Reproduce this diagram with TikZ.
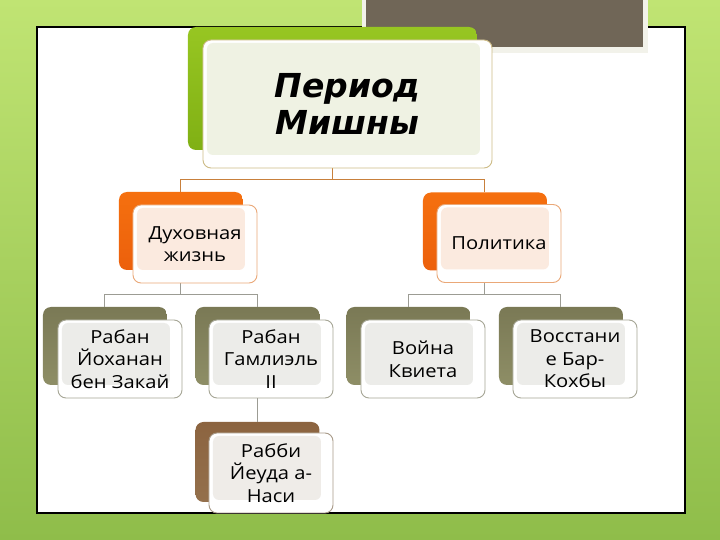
\documentclass[tikz,border=0pt]{standalone}
\usepackage{fontspec}
\setmainfont[FakeStretch=1.12]{Open Sans}
\newfontfamily\titlefont{DejaVu Sans}
\usetikzlibrary{positioning, calc}

\definecolor{bgtop}{HTML}{C0E473}
\definecolor{bgbot}{HTML}{8FBD4A}
\definecolor{grayfill}{HTML}{706657}
\definecolor{grayedge}{HTML}{F2F2EA}
\definecolor{greentop}{HTML}{97C622}
\definecolor{greenbot}{HTML}{80B014}
\definecolor{orangetop}{HTML}{F5700F}
\definecolor{orangebot}{HTML}{EC600C}
\definecolor{olivetop}{HTML}{7A7955}
\definecolor{olivebot}{HTML}{8E8E66}
\definecolor{browntop}{HTML}{8C6440}
\definecolor{brownbot}{HTML}{94704C}
\definecolor{rootline}{HTML}{CDBB86}
\definecolor{roottint}{HTML}{EFF2E3}
\definecolor{orangeline}{HTML}{EAA878}
\definecolor{orangetint}{HTML}{FBEADF}
\definecolor{oliveline}{HTML}{A6A696}
\definecolor{olivetint}{HTML}{ECECE9}
\definecolor{brownline}{HTML}{A89A88}
\definecolor{browntint}{HTML}{EFECE8}
\definecolor{linkroot}{HTML}{C8803C}
\definecolor{linkgray}{HTML}{9C9C94}

\begin{document}
\begin{tikzpicture}[x=0.5pt, y=-0.5pt,
  back/.style n args={2}{rounded corners=4pt, top color=#1, bottom color=#2,
    minimum width=62pt, minimum height=39pt, inner sep=0pt},
  front/.style n args={2}{rounded corners=4pt, draw=#1, line width=0.45pt, fill=white,
    minimum width=62pt, minimum height=39pt, inner sep=0pt, align=center,
    font=\fontsize{9}{11.3}\selectfont,
    path picture={\fill[#2, rounded corners=3pt]
      ($(path picture bounding box.south west)+(2pt,6.5pt)$) rectangle
      ($(path picture bounding box.north east)+(-6pt,-1.5pt)$);}},
  lnk/.style={draw=linkgray, line width=0.5pt},
  lnkroot/.style={draw=linkroot, line width=0.5pt}]

  \useasboundingbox (0,0) rectangle (720,540);
  \shade[top color=bgtop, bottom color=bgbot] (0,0) rectangle (720,540);
  \draw[fill=white, line width=0.6pt] (37,27) rectangle (685,513);
  \fill[grayedge] (362,0) rectangle (648,53);
  \fill[grayfill] (366,0) rectangle (643,47);

  % back boxes
  \node[back={greentop}{greenbot}, minimum width=144.5pt, minimum height=61.5pt] (rootb) at (332.5,88.5) {};
  \node[back={orangetop}{orangebot}] (duxb) at (181,231) {};
  \node[back={orangetop}{orangebot}] (polb) at (485,231.5) {};
  \node[back={olivetop}{olivebot}] (yohb) at (105,346) {};
  \node[back={olivetop}{olivebot}] (gamb) at (257.5,346) {};
  \node[back={olivetop}{olivebot}] (voib) at (408.5,346) {};
  \node[back={olivetop}{olivebot}] (vosb) at (561,346) {};
  \node[back={browntop}{brownbot}, minimum height=40pt] (yehb) at (257.5,462) {};

  % connectors
  \draw[lnkroot] (rootb.center |- 0,168) -- ++(0,12) -| (duxb.north);
  \draw[lnkroot] (rootb.center |- 0,168) -- ++(0,12) -| (polb.north);
  \draw[lnk] (duxb.center |- 0,283) -- ++(0,12) -| (yohb.north);
  \draw[lnk] (duxb.center |- 0,283) -- ++(0,12) -| (gamb.north);
  \draw[lnk] (polb.center |- 0,282) -- ++(0,13) -| (voib.north);
  \draw[lnk] (polb.center |- 0,282) -- ++(0,13) -| (vosb.north);
  \draw[lnk] (gamb.center |- 0,398) -- (yehb.north);

  % front boxes
  \node[front={rootline}{roottint}, minimum width=144.5pt, minimum height=64pt,
    font=\titlefont\bfseries\itshape\fontsize{16.5}{18.5}\selectfont] (root) at (347.5,104) {Период\\Мишны};
  \node[front={orangeline}{orangetint}] (dux) at (195,244) {Духовная\\жизнь};
  \node[front={orangeline}{orangetint}] (pol) at (499,243.5) {Политика};
  \node[front={oliveline}{olivetint}] (yoh) at (120,359) {Рабан\\Йоханан\\бен Закай};
  \node[front={oliveline}{olivetint}] (gam) at (271,359) {Рабан\\Гамлиэль\\II};
  \node[front={oliveline}{olivetint}] (voi) at (423,359) {Война\\Квиета};
  \node[front={oliveline}{olivetint}] (vos) at (575,359) {Восстани\\е Бар-\\Кохбы};
  \node[front={brownline}{browntint}, minimum height=40pt] (yeh) at (271,473) {Рабби\\Йеуда а-\\Наси};

\end{tikzpicture}
\end{document}
